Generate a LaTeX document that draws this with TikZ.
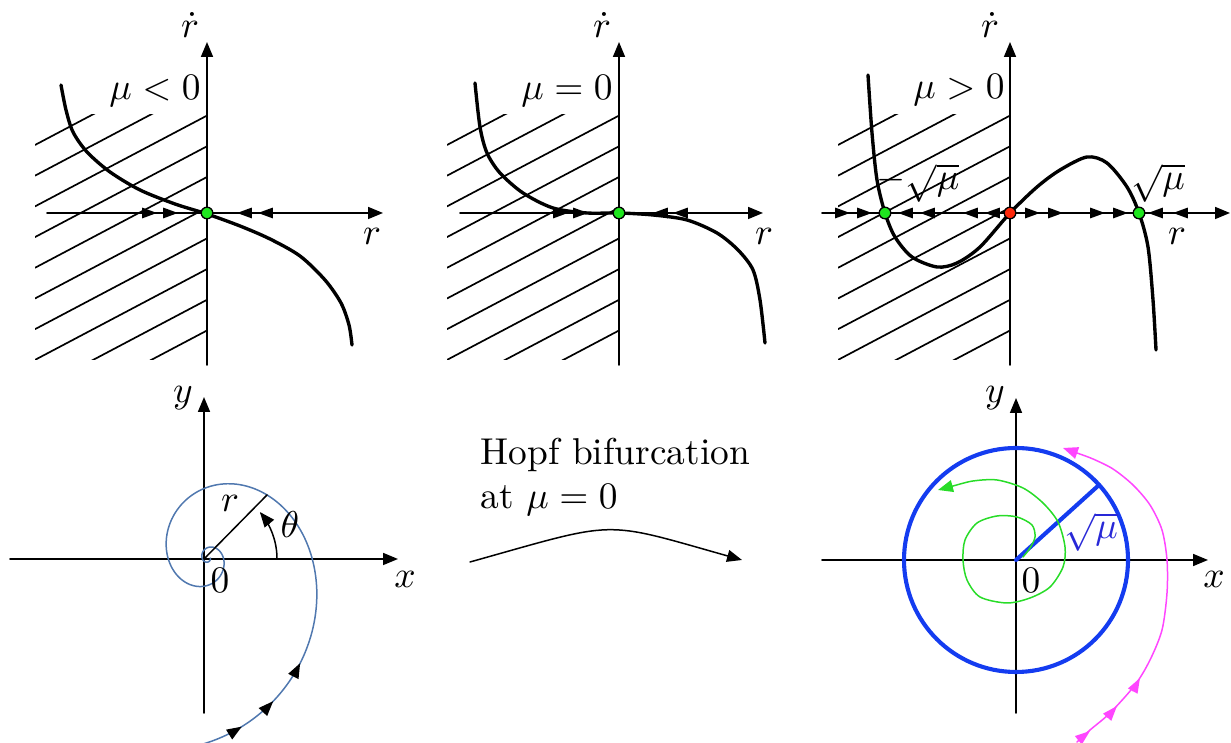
\documentclass[tikz,border=0pt]{standalone}
\usepackage{amsmath, amssymb}
\usepackage{tikz}
\usetikzlibrary{arrows.meta, decorations.markings}

\begin{document}
\begin{tikzpicture}[x=0.0094cm, y=-0.0094cm, >={Triangle[length=4pt, width=3.2pt]},
    line cap=round, line join=round,
    axis/.style={->, line width=0.45pt},
    graph/.style={line width=0.9pt},
    hatch/.style={line width=0.45pt},
    flow/.style={-{Triangle[length=4pt, width=2.8pt]}, line width=0.45pt},
    fixpt/.style={circle, draw=black, line width=0.35pt, inner sep=0pt, minimum size=3.1pt},
    lab/.style={anchor=base, inner sep=0pt}]
    \definecolor{fixgreen}{RGB}{30,230,30}
    \definecolor{fixred}{RGB}{255,40,10}
    \definecolor{spiralblue}{RGB}{80,120,175}
    \definecolor{cycleblue}{RGB}{20,60,240}
    \definecolor{rootblue}{RGB}{40,40,215}
    \definecolor{trajgreen}{RGB}{40,220,40}
    \definecolor{trajmagenta}{RGB}{255,70,255}

    \useasboundingbox (0,0) rectangle (1231,743);

    % --- free parameters of the spiral (pixels, degrees)
    \pgfmathsetmacro{\rad}{104}      % radius at theta = 0
    \pgfmathsetmacro{\decay}{0.005308} % per degree

    % --- hatching of the r < 0 half of the three upper panels
    \foreach \dx in {0, 412, 803} {
      \begin{scope}
        \clip ({35+\dx}, 115) rectangle ({207+\dx}, 360);
        \foreach \k in {0,...,9}
          \draw[hatch] ({35+\dx}, {145+30.7*\k}) -- ++(172, -90.8);
      \end{scope}
    }

    % --- axes of the upper panels
    \draw[axis] (47,213) -- (383,213);
    \draw[axis] (207,365) -- (207,42);
    \draw[axis] (460,213) -- (763,213);
    \draw[axis] (619,365) -- (619,42);
    \draw[axis] (822,213) -- (1230,213);
    \draw[axis] (1010,365) -- (1010,42);

    % --- r-dot against r, for mu < 0, mu = 0, mu > 0
    \draw[graph] plot[smooth] coordinates {(61,85) (66,110) (73,132) (87,152)
      (110,172) (140,190) (175,204) (207,214) (240,226) (270,239) (300,256)
      (325,280) (341,303) (349,325) (352,345)};
    \draw[graph] plot[smooth] coordinates {(475,83) (480,127) (487,153) (500,173)
      (523,193) (553,208) (587,213) (619,213) (653,215) (687,220) (717,233)
      (738,250) (753,270) (760,300) (765,343)};
    \draw[graph] plot[smooth] coordinates {(868,75) (872,133) (877,180) (885,213)
      (895,237) (912,257) (937,267) (957,263) (980,247) (1010,213) (1037,187)
      (1060,170) (1087,157) (1107,163) (1127,187) (1139,213) (1148,247)
      (1153,300) (1156,350)};

    % --- flow on the r axis
    \foreach \t in {157, 178, 568, 588, 850, 872, 1040, 1063, 1105, 1128}
      \draw[flow] ({\t-10}, 213) -- (\t, 213);
    \foreach \t in {237, 258, 653, 673, 898, 920, 963, 985, 1148, 1173}
      \draw[flow] ({\t+10}, 213) -- (\t, 213);

    % --- fixed points
    \node[fixpt, fill=fixgreen] (fp1) at (207,213) {};
    \node[fixpt, fill=fixgreen] (fp2) at (619,213) {};
    \node[fixpt, fill=fixgreen] (fpm) at (885,213) {};
    \node[fixpt, fill=fixred] (fp0) at (1010,213) {};
    \node[fixpt, fill=fixgreen] (fpp) at (1139,213) {};

    % --- labels of the upper panels
    \node[lab] (rdot1) at (190,38) {$\dot r$};
    \node[lab] (rlab1) at (372,245) {$r$};
    \node[lab] (mu1) at (155,100) {$\mu < 0$};
    \node[lab] (rdot2) at (602,38) {$\dot r$};
    \node[lab] (rlab2) at (764,245) {$r$};
    \node[lab] (mu2) at (567,100) {$\mu = 0$};
    \node[lab] (rdot3) at (990,38) {$\dot r$};
    \node[lab] (rlab3) at (1177,245) {$r$};
    \node[lab] (mu3) at (959,99) {$\mu > 0$};
    \node[lab] (rootm) at (918,190) {$-\sqrt{\mu}$};
    \node[lab] (rootp) at (1158,190) {$\sqrt{\mu}$};

    % --- stable focus, mu < 0
    \coordinate (O1) at (204,559);
    \coordinate (R1) at (267,495);
    \draw[axis] (10,559) -- (398,559);
    \draw[axis] (204,713) -- (204,397);
    % outer turn, with the flow on it
    \draw[spiralblue, line width=0.4pt,
      decoration={markings,
        mark=at position 0.34 with {\arrow[black]{Triangle[length=4pt, width=3pt]}},
        mark=at position 0.60 with {\arrow[black]{Triangle[length=4pt, width=3pt]}},
        mark=at position 0.90 with {\arrow[black]{Triangle[length=4pt, width=3pt]}}},
      postaction={decorate}, domain=-95:-40, samples=40, variable=\t]
      plot ({208+\rad*exp(-\decay*\t)*cos(\t)}, {558-1.1*\rad*exp(-\decay*\t)*sin(\t)});
    % the rest, into the origin
    \draw[spiralblue, line width=0.4pt, domain=-40:720, samples=300, variable=\t]
      plot ({208+\rad*exp(-\decay*\t)*cos(\t)}, {558-1.1*\rad*exp(-\decay*\t)*sin(\t)});
    \draw (O1) -- (R1);
    \draw[->, domain=0:40, samples=30, variable=\a]
      plot ({204+73*cos(\a)}, {559-73*sin(\a)});
    \node[lab] (ylab1) at (183,403) {$y$};
    \node[lab] (xlab1) at (405,588) {$x$};
    \node[lab] (zero1) at (220,593) {$0$};
    \node[lab] (rlab4) at (230,512) {$r$};
    \node[lab] (theta) at (290,538) {$\theta$};

    % --- the bifurcation
    \node[anchor=north west, inner sep=0pt, align=left] (hopf) at (480,437)
      {Hopf bifurcation\\at $\mu = 0$};
    \coordinate (hopfA) at (470,562);
    \coordinate (hopfB) at (742,560);
    \draw[->] (hopfA) .. controls (620,520) and (600,520) .. (hopfB);

    % --- limit cycle, mu > 0
    \coordinate (O2) at (1016,560);
    \coordinate (R2) at (1099,485);
    \draw[axis] (822,560) -- (1208,560);
    \draw[axis] (1016,713) -- (1016,398);
    \draw[cycleblue, line width=1.1pt] (O2) circle[radius=112];
    \draw[cycleblue, line width=1.1pt] (O2) -- (R2);
    \draw[trajgreen, line width=0.4pt, ->] plot[smooth] coordinates {(1023,557)
      (1030,548) (1035,537) (1032,525) (1017,517) (997,516) (977,523) (965,540)
      (963,560) (967,580) (980,597) (1007,603) (1030,598) (1050,587) (1063,567)
      (1065,547) (1058,522) (1043,503) (1023,488) (997,480) (973,481) (953,486)
      (938,490)};
    \draw[trajmagenta, line width=0.4pt, ->] plot[smooth] coordinates {(1077,742)
      (1090,730) (1110,713) (1135,685) (1150,660) (1162,630) (1167,593)
      (1167,560) (1162,530) (1150,505) (1133,485) (1113,469) (1093,459)
      (1077,453) (1063,448)};
    % flow on the outer trajectory
    \draw[flow, trajmagenta] (1080,739) -- (1090,731);
    \draw[flow, trajmagenta] (1110,714) -- (1117,706);
    \draw[flow, trajmagenta] (1135,687) -- (1140,678);
    \node[lab] (ylab2) at (995,403) {$y$};
    \node[lab] (xlab2) at (1214,588) {$x$};
    \node[lab] (zero2) at (1031,593) {$0$};
    \node[lab, text=rootblue] (radius) at (1091,539) {$\sqrt{\mu}$};
  \end{tikzpicture}
\end{document}
